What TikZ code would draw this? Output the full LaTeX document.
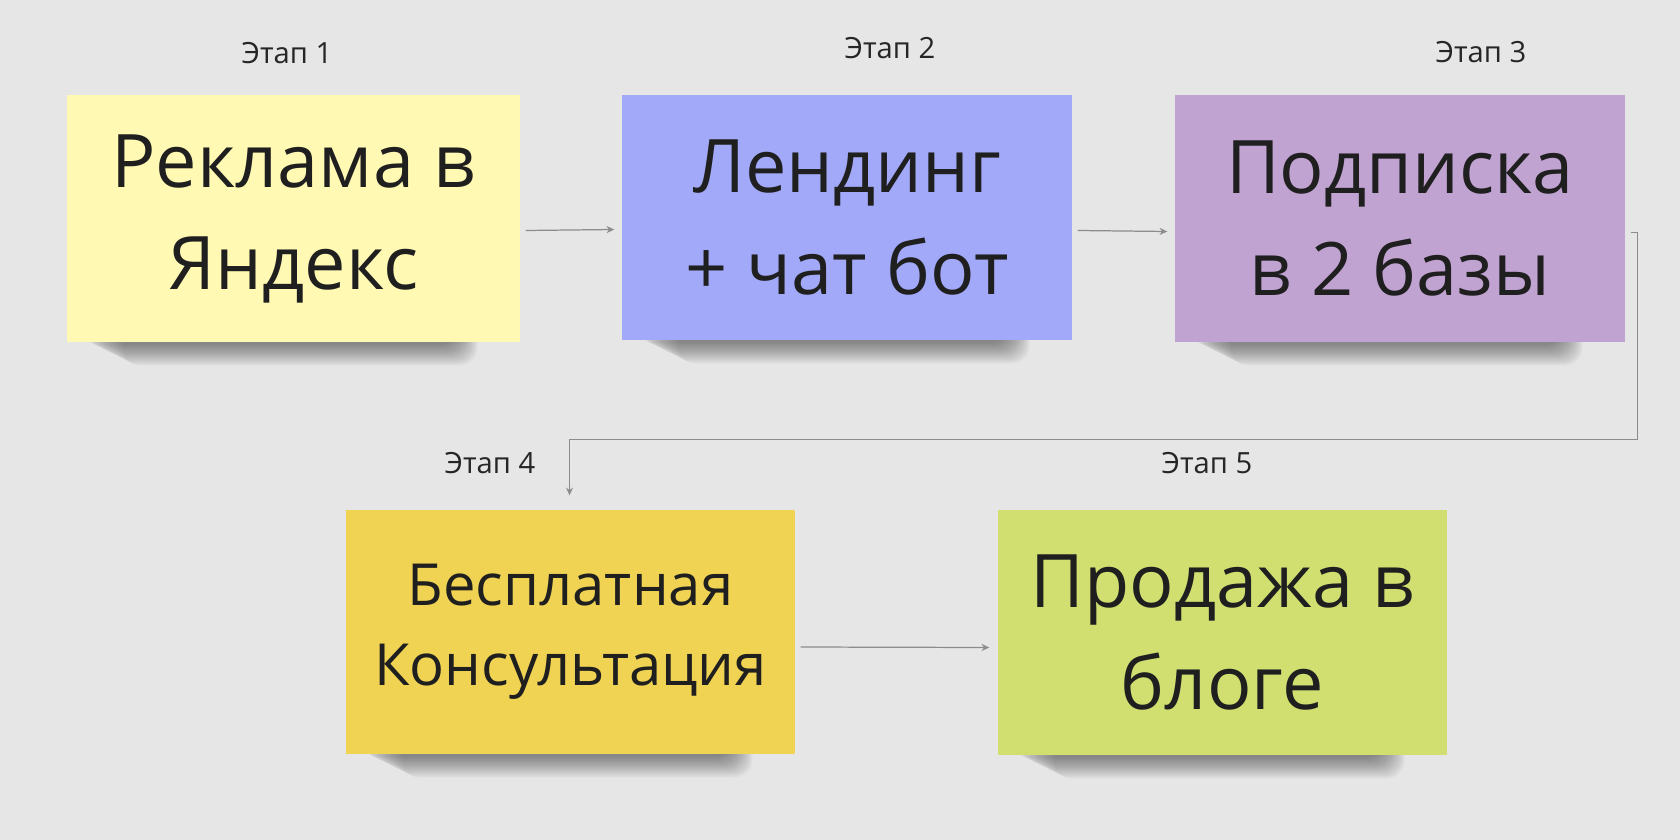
\documentclass[tikz,border=0pt]{standalone}
\usepackage{fontspec}
\setmainfont{Open Sans}
\usetikzlibrary{arrows.meta}
\definecolor{bgcol}{HTML}{E6E6E6}
\definecolor{note1}{HTML}{FFF9B4}
\definecolor{note2}{HTML}{A2A9F8}
\definecolor{note3}{HTML}{C1A3D2}
\definecolor{note4}{HTML}{F0D353}
\definecolor{note5}{HTML}{D0DF70}
\definecolor{linkcol}{HTML}{8C8C8C}
\pgfdeclarelayer{bg}
\pgfdeclarelayer{shade}
\pgfsetlayers{bg,shade,main}

\begin{document}
\begin{tikzpicture}[x=0.01cm, y=-0.01cm,
    note/.style={rectangle, inner sep=0pt, align=center, text=black!88,
        font=\fontsize{21pt}{29pt}\selectfont},
    stage/.style={font=\fontsize{8.3pt}{10pt}\selectfont, text=black!85},
    link/.style={draw=linkcol, line width=0.35pt,
        -{Stealth[length=2.2pt, width=2pt]}}]
    \useasboundingbox (0,0) rectangle (1680,840);
    \begin{pgfonlayer}{bg}
        \fill[bgcol] (0,0) rectangle (1680,840);
    \end{pgfonlayer}

    \node[note, fill=note1, minimum width=453*0.01cm, minimum height=247*0.01cm]
        (s1) at (293.5,218.5) {Реклама в\\Яндекс};
    \node[note, fill=note2, minimum width=450*0.01cm, minimum height=245*0.01cm]
        (s2) at (847,217.5) {Лендинг\\+ чат бот};
    \node[note, fill=note3, minimum width=450*0.01cm, minimum height=247*0.01cm]
        (s3) at (1400,218.5) {Подписка\\в 2 базы};
    \node[note, fill=note4, minimum width=449*0.01cm, minimum height=244*0.01cm,
        font=\fontsize{16.5pt}{22.8pt}\selectfont]
        (s4) at (570.5,632) {Бесплатная\\Консультация};
    \node[note, fill=note5, minimum width=449*0.01cm, minimum height=245*0.01cm]
        (s5) at (1222.5,632.5) {Продажа в\\блоге};

    % soft shadows under the notes
    \begin{pgfonlayer}{shade}
        \foreach \s in {s1,s2,s3,s4,s5}
            \foreach \i in {0,...,19}
                \fill[black, opacity=0.024, rounded corners=5pt]
                    ([shift={(15+2.2*\i,-30)}]\s.south west) rectangle
                    ([shift={(-64+1.1*\i,2+1.1*\i)}]\s.south east);
    \end{pgfonlayer}

    \node[stage] (l1) at (287,53) {Этап 1};
    \node[stage] (l2) at (890,48) {Этап 2};
    \node[stage] (l3) at (1481,52) {Этап 3};
    \node[stage] (l4) at (490,463) {Этап 4};
    \node[stage] (l5) at (1207,463) {Этап 5};

    \draw[link] ([shift={(5,12)}]s1.east) -- ([shift={(-7,12)}]s2.west);
    \draw[link] ([shift={(5,13)}]s2.east) -- ([shift={(-7,13)}]s3.west);
    \draw[link] ([shift={(5,14)}]s3.east) -- ++(7,0)
        |- ([shift={(-1,-70)}]s4.north) -- ([shift={(-1,-14)}]s4.north);
    \draw[link] ([shift={(5,15)}]s4.east) -- ([shift={(-8,15)}]s5.west);
\end{tikzpicture}
\end{document}
